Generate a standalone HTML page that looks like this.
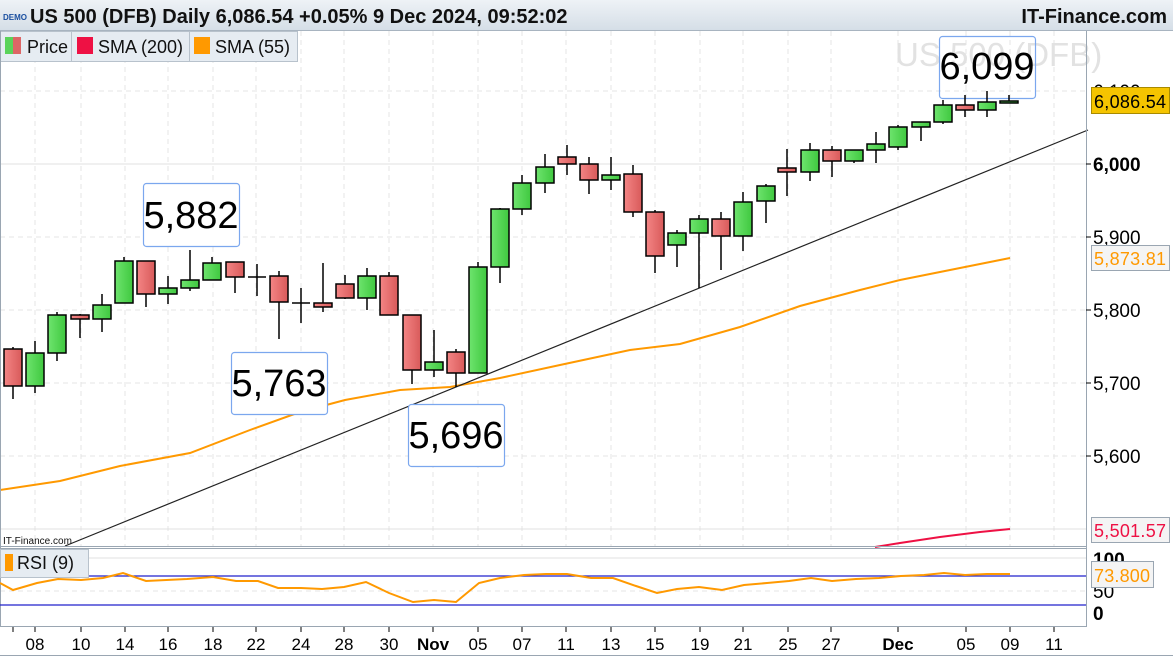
<!DOCTYPE html>
<html><head><meta charset="utf-8"><style>
html,body{margin:0;padding:0;background:#fff;}
svg{display:block;font-family:"Liberation Sans",Arial,sans-serif;}
</style></head><body>
<svg width="1173" height="660" viewBox="0 0 1173 660" xmlns="http://www.w3.org/2000/svg">
<defs>
<linearGradient id="hd" x1="0" y1="0" x2="0" y2="1"><stop offset="0" stop-color="#eef2f6"/><stop offset="1" stop-color="#d5dee7"/></linearGradient>
<linearGradient id="gr" x1="0" y1="0" x2="1" y2="0"><stop offset="0" stop-color="#6ee46e"/><stop offset="1" stop-color="#3fc83f"/></linearGradient>
<linearGradient id="rd" x1="0" y1="0" x2="1" y2="0"><stop offset="0" stop-color="#f48585"/><stop offset="1" stop-color="#d85a5a"/></linearGradient>
</defs>
<rect x="0" y="0" width="1173" height="660" fill="#fff"/>
<rect x="0" y="0" width="1173" height="30" fill="url(#hd)"/>
<line x1="0" y1="30.5" x2="1173" y2="30.5" stroke="#a8b4c0"/>
<text x="3" y="20" font-size="8" fill="#1a4fa0" font-weight="bold">DEMO</text>
<text x="30" y="23" font-size="20" font-weight="bold" fill="#111">US 500 (DFB) Daily 6,086.54 +0.05% 9 Dec 2024, 09:52:02</text>
<text x="1167" y="23" font-size="20" font-weight="bold" fill="#111" text-anchor="end">IT-Finance.com</text>
<g stroke="#e4e4e4" stroke-dasharray="5,4">
<line x1="35" y1="31" x2="35" y2="546"/><line x1="81" y1="31" x2="81" y2="546"/><line x1="125" y1="31" x2="125" y2="546"/><line x1="168" y1="31" x2="168" y2="546"/><line x1="213" y1="31" x2="213" y2="546"/><line x1="256" y1="31" x2="256" y2="546"/><line x1="301" y1="31" x2="301" y2="546"/><line x1="344" y1="31" x2="344" y2="546"/><line x1="389" y1="31" x2="389" y2="546"/><line x1="433" y1="31" x2="433" y2="546"/><line x1="478" y1="31" x2="478" y2="546"/><line x1="522" y1="31" x2="522" y2="546"/><line x1="566" y1="31" x2="566" y2="546"/><line x1="611" y1="31" x2="611" y2="546"/><line x1="655" y1="31" x2="655" y2="546"/><line x1="700" y1="31" x2="700" y2="546"/><line x1="743" y1="31" x2="743" y2="546"/><line x1="788" y1="31" x2="788" y2="546"/><line x1="831" y1="31" x2="831" y2="546"/><line x1="898" y1="31" x2="898" y2="546"/><line x1="966" y1="31" x2="966" y2="546"/><line x1="1010" y1="31" x2="1010" y2="546"/><line x1="1054" y1="31" x2="1054" y2="546"/>
<line x1="0" y1="91" x2="1086" y2="91"/><line x1="0" y1="237" x2="1086" y2="237"/><line x1="0" y1="310" x2="1086" y2="310"/><line x1="0" y1="383" x2="1086" y2="383"/><line x1="0" y1="456" x2="1086" y2="456"/>
<line x1="0" y1="591" x2="1086" y2="591"/>
</g>
<line x1="0" y1="164" x2="1086" y2="164" stroke="#e0e0e0"/>
<line x1="0" y1="529" x2="1086" y2="529" stroke="#e0e0e0"/>
<line x1="0" y1="558" x2="1086" y2="558" stroke="#e0e0e0"/>
<text x="895" y="66" font-size="33" fill="#e2e2e2">US 500 (DFB)</text>
<polyline fill="none" stroke="#ff9900" stroke-width="2" points="0,490 60,481 120,466 190,453 250,430 300,412 345,400 400,390 450,387 500,378 560,365 630,350 680,344 740,327 800,306 860,290 900,280 960,268 1010,258"/>
<polyline fill="none" stroke="#ee1144" stroke-width="2" points="875,547 900,543 940,537 980,532 1010,529"/>
<line x1="65" y1="546" x2="1088" y2="130" stroke="#222" stroke-width="1.2"/>
<g fill="#fff" stroke="#7ba7ee" stroke-width="1.2">
<rect x="143.5" y="183.5" width="96" height="63" rx="3"/>
<rect x="231.5" y="352.5" width="96" height="62" rx="3"/>
<rect x="408.5" y="404.5" width="96" height="62" rx="3"/>
</g>
<rect x="939.5" y="36.5" width="96" height="62" rx="3" fill="none" stroke="#7ba7ee" stroke-width="1.2"/>
<g stroke="#000" stroke-width="1.5">
<line x1="13" y1="347" x2="13" y2="399"/><rect x="4" y="349" width="18" height="37" fill="url(#rd)"/>
<line x1="35" y1="341" x2="35" y2="393"/><rect x="26" y="353" width="18" height="33" fill="url(#gr)"/>
<line x1="57" y1="312" x2="57" y2="361"/><rect x="48" y="315" width="18" height="38" fill="url(#gr)"/>
<line x1="80" y1="314" x2="80" y2="338"/><rect x="71" y="315" width="18" height="4" fill="url(#rd)"/>
<line x1="102" y1="294" x2="102" y2="332"/><rect x="93" y="305" width="18" height="14" fill="url(#gr)"/>
<line x1="124" y1="257" x2="124" y2="303"/><rect x="115" y="261" width="18" height="42" fill="url(#gr)"/>
<line x1="146" y1="261" x2="146" y2="307"/><rect x="137" y="261" width="18" height="33" fill="url(#rd)"/>
<line x1="168" y1="276" x2="168" y2="304"/><rect x="159" y="288" width="18" height="6" fill="url(#gr)"/>
<line x1="190" y1="250" x2="190" y2="291"/><rect x="181" y="280" width="18" height="8" fill="url(#gr)"/>
<line x1="212" y1="257" x2="212" y2="280"/><rect x="203" y="263" width="18" height="17" fill="url(#gr)"/>
<line x1="235" y1="262" x2="235" y2="293"/><rect x="226" y="262" width="18" height="15" fill="url(#rd)"/>
<line x1="257" y1="264" x2="257" y2="296"/><line x1="248" y1="277" x2="266" y2="277"/>
<line x1="279" y1="271" x2="279" y2="339"/><rect x="270" y="276" width="18" height="26" fill="url(#rd)"/>
<line x1="301" y1="288" x2="301" y2="323"/><line x1="292" y1="303" x2="310" y2="303"/>
<line x1="323" y1="263" x2="323" y2="312"/><rect x="314" y="303" width="18" height="4" fill="url(#rd)"/>
<line x1="345" y1="275" x2="345" y2="299"/><rect x="336" y="284" width="18" height="14" fill="url(#rd)"/>
<line x1="367" y1="268" x2="367" y2="310"/><rect x="358" y="276" width="18" height="22" fill="url(#gr)"/>
<line x1="389" y1="272" x2="389" y2="315"/><rect x="380" y="276" width="18" height="39" fill="url(#rd)"/>
<line x1="412" y1="315" x2="412" y2="384"/><rect x="403" y="315" width="18" height="55" fill="url(#rd)"/>
<line x1="434" y1="330" x2="434" y2="377"/><rect x="425" y="362" width="18" height="8" fill="url(#gr)"/>
<line x1="456" y1="349" x2="456" y2="387"/><rect x="447" y="352" width="18" height="21" fill="url(#rd)"/>
<line x1="478" y1="262" x2="478" y2="373"/><rect x="469" y="267" width="18" height="106" fill="url(#gr)"/>
<line x1="500" y1="208" x2="500" y2="283"/><rect x="491" y="209" width="18" height="58" fill="url(#gr)"/>
<line x1="522" y1="175" x2="522" y2="215"/><rect x="513" y="183" width="18" height="26" fill="url(#gr)"/>
<line x1="545" y1="154" x2="545" y2="193"/><rect x="536" y="167" width="18" height="16" fill="url(#gr)"/>
<line x1="567" y1="145" x2="567" y2="175"/><rect x="558" y="157" width="18" height="7" fill="url(#rd)"/>
<line x1="589" y1="157" x2="589" y2="194"/><rect x="580" y="164" width="18" height="16" fill="url(#rd)"/>
<line x1="611" y1="157" x2="611" y2="190"/><rect x="602" y="175" width="18" height="5" fill="url(#gr)"/>
<line x1="633" y1="165" x2="633" y2="217"/><rect x="624" y="174" width="18" height="38" fill="url(#rd)"/>
<line x1="655" y1="210" x2="655" y2="273"/><rect x="646" y="212" width="18" height="44" fill="url(#rd)"/>
<line x1="677" y1="230" x2="677" y2="267"/><rect x="668" y="233" width="18" height="12" fill="url(#gr)"/>
<line x1="699" y1="215" x2="699" y2="288"/><rect x="690" y="219" width="18" height="14" fill="url(#gr)"/>
<line x1="721" y1="212" x2="721" y2="270"/><rect x="712" y="219" width="18" height="17" fill="url(#rd)"/>
<line x1="743" y1="192" x2="743" y2="251"/><rect x="734" y="202" width="18" height="34" fill="url(#gr)"/>
<line x1="766" y1="184" x2="766" y2="223"/><rect x="757" y="186" width="18" height="15" fill="url(#gr)"/>
<line x1="787" y1="149" x2="787" y2="196"/><rect x="778" y="168" width="18" height="4" fill="url(#rd)"/>
<line x1="810" y1="143" x2="810" y2="181"/><rect x="801" y="150" width="18" height="22" fill="url(#gr)"/>
<line x1="832" y1="146" x2="832" y2="177"/><rect x="823" y="150" width="18" height="11" fill="url(#rd)"/>
<line x1="854" y1="150" x2="854" y2="163"/><rect x="845" y="150" width="18" height="11" fill="url(#gr)"/>
<line x1="876" y1="132" x2="876" y2="163"/><rect x="867" y="144" width="18" height="6" fill="url(#gr)"/>
<line x1="898" y1="125" x2="898" y2="150"/><rect x="889" y="127" width="18" height="20" fill="url(#gr)"/>
<line x1="921" y1="122" x2="921" y2="141"/><rect x="912" y="122" width="18" height="5" fill="url(#gr)"/>
<line x1="943" y1="100" x2="943" y2="124"/><rect x="934" y="105" width="18" height="17" fill="url(#gr)"/>
<line x1="965" y1="95" x2="965" y2="117"/><rect x="956" y="105" width="18" height="5" fill="url(#rd)"/>
<line x1="987" y1="91" x2="987" y2="117"/><rect x="978" y="102" width="18" height="8" fill="url(#gr)"/>
<line x1="1009" y1="95" x2="1009" y2="103"/><rect x="1000" y="101" width="18" height="2" fill="url(#gr)"/>
</g>
<g font-size="38" fill="#000" text-anchor="middle">
<text x="191" y="228">5,882</text>
<text x="279" y="396">5,763</text>
<text x="456" y="448">5,696</text>
<text x="987" y="79">6,099</text>
</g>
<g stroke="#b8c2cc" fill="#e6ecf2">
<rect x="0.5" y="31.5" width="71" height="30"/><rect x="71.5" y="31.5" width="118" height="30"/><rect x="189.5" y="31.5" width="108" height="30"/>
</g>
<rect x="5" y="37" width="8" height="17" fill="#5ad35a"/><rect x="13" y="37" width="8" height="17" fill="#dd6666"/>
<rect x="77" y="37" width="16" height="17" fill="#ee1144"/>
<rect x="194" y="37" width="16" height="17" fill="#ff9900"/>
<g font-size="18" fill="#111"><text x="27" y="53">Price</text><text x="98" y="53">SMA (200)</text><text x="215" y="53">SMA (55)</text></g>
<line x1="0" y1="546.5" x2="1086" y2="546.5" stroke="#9aa6b2"/>
<line x1="0" y1="548.5" x2="1086" y2="548.5" stroke="#9aa6b2"/>
<line x1="0" y1="626.5" x2="1086" y2="626.5" stroke="#9aa6b2"/>
<line x1="1086.5" y1="31" x2="1086.5" y2="627" stroke="#9aa6b2"/>
<line x1="0.5" y1="31" x2="0.5" y2="627" stroke="#9aa6b2"/>
<text x="3" y="544" font-size="10" fill="#111">IT-Finance.com</text>
<line x1="0" y1="576" x2="1086" y2="576" stroke="#2222cc" stroke-width="1.2"/>
<line x1="0" y1="605" x2="1086" y2="605" stroke="#2222cc" stroke-width="1.2"/>
<polyline fill="none" stroke="#ff9900" stroke-width="2" points="0,583 13,590 37,583 58,579 81,580 103,578 123,573 146,581 187,579 213,577 236,581 258,581 278,588 301,588 322,589 344,587 366,582 389,593 413,602 434,600 456,602 479,583 500,578 524,575 546,574 567,574 591,578 613,578 636,586 657,593 677,589 699,587 722,590 744,585 767,583 789,581 811,578 832,581 856,579 879,578 901,576 924,575 944,573 965,575 987,574 1010,574"/>
<rect x="0.5" y="549.5" width="88" height="28" fill="#e6ecf2" stroke="#b8c2cc"/>
<rect x="5" y="554" width="8" height="17" fill="#ff9900"/>
<text x="17" y="569" font-size="18" fill="#111">RSI (9)</text>
<g font-size="19" fill="#000">
<text x="1093" y="98">6,100</text>
<text x="1093" y="171" font-weight="bold">6,000</text>
<text x="1093" y="244">5,900</text>
<text x="1093" y="317">5,800</text>
<text x="1093" y="390">5,700</text>
<text x="1093" y="463">5,600</text>
<text x="1093" y="566" font-weight="bold">100</text>
<text x="1093" y="598">50</text>
<text x="1093" y="620" font-weight="bold">0</text>
</g>
<g stroke="#000"><line x1="1086" y1="164" x2="1091" y2="164"/><line x1="1086" y1="237" x2="1091" y2="237"/><line x1="1086" y1="310" x2="1091" y2="310"/><line x1="1086" y1="383" x2="1091" y2="383"/><line x1="1086" y1="456" x2="1091" y2="456"/></g>
<rect x="1091.5" y="87.5" width="78" height="26" fill="#f5c400" stroke="#a88a00"/>
<text x="1094" y="108" font-size="18" fill="#000" textLength="72">6,086.54</text>
<rect x="1091.5" y="245.5" width="78" height="25" fill="#f4f4f4" stroke="#9aa6b2"/>
<text x="1094" y="265" font-size="18" fill="#ff9900" textLength="72">5,873.81</text>
<rect x="1091.5" y="517.5" width="78" height="25" fill="#f4f4f4" stroke="#9aa6b2"/>
<text x="1094" y="537" font-size="18" fill="#ee1144" textLength="72">5,501.57</text>
<rect x="1091.5" y="561.5" width="62" height="26" fill="#f4f4f4" stroke="#9aa6b2"/>
<text x="1094" y="582" font-size="18" fill="#ff9900" textLength="56">73.800</text>
<line x1="0" y1="655.5" x2="1173" y2="655.5" stroke="#9aa6b2"/>
<g stroke="#000"><line x1="13" y1="627" x2="13" y2="632"/><line x1="35" y1="627" x2="35" y2="632"/><line x1="81" y1="627" x2="81" y2="632"/><line x1="125" y1="627" x2="125" y2="632"/><line x1="168" y1="627" x2="168" y2="632"/><line x1="213" y1="627" x2="213" y2="632"/><line x1="256" y1="627" x2="256" y2="632"/><line x1="301" y1="627" x2="301" y2="632"/><line x1="344" y1="627" x2="344" y2="632"/><line x1="389" y1="627" x2="389" y2="632"/><line x1="433" y1="627" x2="433" y2="632"/><line x1="478" y1="627" x2="478" y2="632"/><line x1="522" y1="627" x2="522" y2="632"/><line x1="566" y1="627" x2="566" y2="632"/><line x1="611" y1="627" x2="611" y2="632"/><line x1="655" y1="627" x2="655" y2="632"/><line x1="700" y1="627" x2="700" y2="632"/><line x1="743" y1="627" x2="743" y2="632"/><line x1="788" y1="627" x2="788" y2="632"/><line x1="831" y1="627" x2="831" y2="632"/><line x1="898" y1="627" x2="898" y2="632"/><line x1="966" y1="627" x2="966" y2="632"/><line x1="1010" y1="627" x2="1010" y2="632"/><line x1="1054" y1="627" x2="1054" y2="632"/></g>
<g font-size="17" fill="#000" text-anchor="middle">
<text x="35" y="650">08</text><text x="81" y="650">10</text><text x="125" y="650">14</text><text x="168" y="650">16</text><text x="213" y="650">18</text><text x="256" y="650">22</text><text x="301" y="650">24</text><text x="344" y="650">28</text><text x="389" y="650">30</text><text x="433" y="650" font-weight="bold">Nov</text><text x="478" y="650">05</text><text x="522" y="650">07</text><text x="566" y="650">11</text><text x="611" y="650">13</text><text x="655" y="650">15</text><text x="700" y="650">19</text><text x="743" y="650">21</text><text x="788" y="650">25</text><text x="831" y="650">27</text><text x="898" y="650" font-weight="bold">Dec</text><text x="966" y="650">05</text><text x="1010" y="650">09</text><text x="1054" y="650">11</text>
</g>
</svg>
</body></html>
